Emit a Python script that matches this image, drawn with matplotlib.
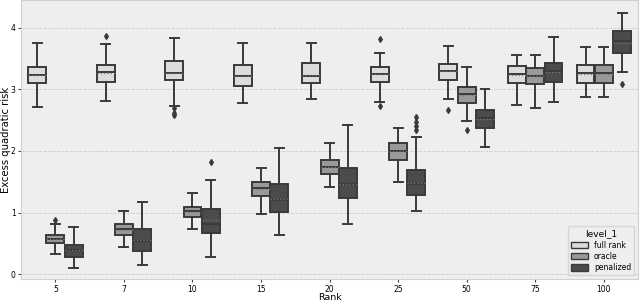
import matplotlib
matplotlib.use("Agg")
import matplotlib.pyplot as plt
from matplotlib.patches import Patch

ranks = ["5", "7", "10", "15", "20", "25", "50", "75", "100"]
methods = ["full rank", "oracle", "penalized"]
colors = ["#dcdcdc", "#999999", "#4b4b4b"]

# per method: [whislo, q1, med, q3, whishi] for each rank
full_rank = [
    [2.72, 3.10, 3.23, 3.37, 3.75],
    [2.81, 3.12, 3.28, 3.40, 3.73],
    [2.73, 3.15, 3.27, 3.46, 3.83],
    [2.78, 3.05, 3.22, 3.40, 3.76],
    [2.84, 3.10, 3.22, 3.42, 3.76],
    [2.80, 3.12, 3.25, 3.37, 3.59],
    [2.85, 3.15, 3.30, 3.41, 3.71],
    [2.75, 3.11, 3.25, 3.38, 3.56],
    [2.88, 3.11, 3.26, 3.39, 3.69],
]
oracle = [
    [0.33, 0.50, 0.57, 0.64, 0.81],
    [0.44, 0.64, 0.73, 0.81, 1.02],
    [0.73, 0.93, 1.03, 1.09, 1.32],
    [0.97, 1.27, 1.39, 1.50, 1.73],
    [1.41, 1.62, 1.74, 1.85, 2.13],
    [1.50, 1.86, 2.00, 2.13, 2.38],
    [2.49, 2.77, 2.92, 3.03, 3.36],
    [2.70, 3.08, 3.22, 3.34, 3.56],
    [2.88, 3.11, 3.26, 3.39, 3.69],
]
penalized = [
    [0.10, 0.28, 0.39, 0.48, 0.76],
    [0.15, 0.38, 0.54, 0.73, 1.17],
    [0.27, 0.66, 0.81, 1.06, 1.53],
    [0.64, 1.01, 1.20, 1.47, 2.04],
    [0.81, 1.23, 1.47, 1.73, 2.42],
    [1.03, 1.28, 1.47, 1.69, 2.23],
    [2.06, 2.38, 2.53, 2.66, 3.00],
    [2.80, 3.12, 3.29, 3.43, 3.85],
    [3.28, 3.59, 3.78, 3.94, 4.24],
]
# means (dotted line inside boxes)
mean_full = [3.23, 3.27, 3.27, 3.22, 3.23, 3.25, 3.29, 3.24, 3.25]
mean_oracle = [0.57, 0.72, 1.01, 1.38, 1.74, 2.00, 2.90, 3.22, 3.25]
mean_pen = [0.39, 0.55, 0.88, 1.22, 1.47, 1.48, 2.52, 3.28, 3.76]

outliers_full = [[], [3.87], [2.69, 2.62, 2.58], [], [], [3.81, 2.73], [2.67], [], []]
outliers_oracle = [[0.88], [], [], [], [], [], [2.34], [], []]
outliers_pen = [[], [], [1.82], [], [], [2.55, 2.47, 2.40, 2.34], [], [], [3.08]]

data = [full_rank, oracle, penalized]
means = [mean_full, mean_oracle, mean_pen]
fliers = [outliers_full, outliers_oracle, outliers_pen]

fig = plt.figure(figsize=(6.4, 3.02), dpi=100)
ax = fig.add_axes([0.033, 0.076, 0.964, 0.924])
ax.set_facecolor("#eeeeee")
for s in ax.spines.values():
    s.set_color("#d0d0d0")
    s.set_linewidth(0.8)
ax.yaxis.grid(True, color="#cccccc", linestyle="--", linewidth=0.6)
ax.set_axisbelow(True)

width = 0.8 / 3
edge = "#3a3a3a"
for m in range(3):
    stats = []
    for i in range(len(ranks)):
        lo, q1, med, q3, hi = data[m][i]
        stats.append(dict(whislo=lo, q1=q1, med=med, q3=q3, whishi=hi,
                          mean=means[m][i], fliers=fliers[m][i]))
    pos = [i + (m - 1) * width for i in range(len(ranks))]
    ax.bxp(stats, positions=pos, widths=width * 0.98, patch_artist=True,
           showmeans=True, meanline=True, manage_ticks=False,
           boxprops=dict(facecolor=colors[m], edgecolor=edge, linewidth=1.4),
           whiskerprops=dict(color=edge, linewidth=1.4),
           capprops=dict(color=edge, linewidth=1.4),
           medianprops=dict(color=edge, linewidth=1.4),
           meanprops=dict(color="#777777", linestyle=":", linewidth=0.9),
           flierprops=dict(marker="d", markerfacecolor=edge,
                           markeredgecolor=edge, markersize=3))

ax.set_xticks(range(len(ranks)))
ax.set_xticklabels(ranks)
ax.set_xlim(-0.5, len(ranks) - 0.5)
ax.set_ylim(-0.08, 4.45)
ax.set_yticks([0, 1, 2, 3, 4])
ax.tick_params(labelsize=5.5, length=2.5, width=0.8, color="#444444", pad=1.5)
ax.set_xlabel("Rank", fontsize=6.8)
ax.set_ylabel("Excess quadratic risk", fontsize=7.2)
ax.xaxis.set_label_coords(0.5, -0.051)
ax.yaxis.set_label_coords(-0.016, 0.5)

handles = [Patch(facecolor=c, edgecolor=edge, linewidth=1.0, label=l)
           for c, l in zip(colors, methods)]
leg = ax.legend(handles=handles, title="level_1", loc="lower right",
                fontsize=5.5, title_fontsize=6.5, frameon=True,
                facecolor="#eeeeee", edgecolor="#d0d0d0",
                handlelength=2.2, handleheight=0.9, borderpad=0.4,
                labelspacing=0.3)

fig.savefig("out.png", dpi=100)
